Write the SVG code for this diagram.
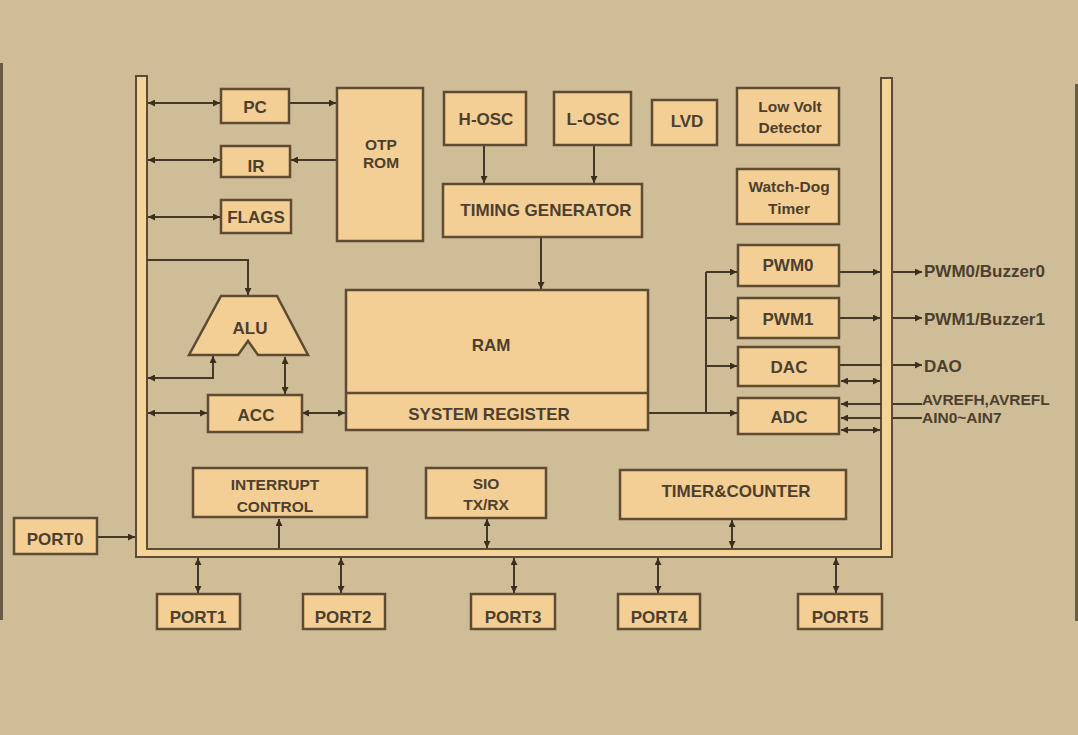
<svg xmlns="http://www.w3.org/2000/svg" width="1078" height="735" viewBox="0 0 1078 735">
<defs>
<style>
.b{fill:#f3cf95;stroke:#5e4b33;stroke-width:2.5}
.t{font-family:"Liberation Sans",Arial,sans-serif;font-weight:bold;font-size:17px;fill:#4d3f2e;text-anchor:middle}
.ts{font-family:"Liberation Sans",Arial,sans-serif;font-weight:bold;font-size:17px;fill:#4d3f2e}
.s2{font-size:15.5px}
.c{fill:none;stroke:#463826;stroke-width:2}
.a{marker-end:url(#ah)}
.d{marker-start:url(#ah);marker-end:url(#ah)}
</style>
<marker id="ah" viewBox="0 0 10 10" refX="10" refY="5" markerWidth="8" markerHeight="7" markerUnits="userSpaceOnUse" orient="auto-start-reverse">
<path d="M0,0 L10,5 L0,10 z" fill="#3a2e1f"/>
</marker>
</defs>
<rect width="1078" height="735" fill="#cfbd97"/>
<rect x="0" y="63" width="3" height="557" fill="#6b5c48"/>
<rect x="1075" y="84" width="3" height="537" fill="#6b5c48"/>

<g id="bus">
<polygon points="136,76 147,76 147,549 881,549 881,78 892,78 892,557 136,557" fill="#f5d49a" stroke="#5e4b33" stroke-width="2"/>
</g>

<g id="connectors">
<line class="c d" x1="148" y1="103" x2="220" y2="103"/>
<line class="c a" x1="290" y1="103" x2="336" y2="103"/>
<line class="c d" x1="148" y1="160" x2="220" y2="160"/>
<line class="c a" x1="336" y1="160" x2="291" y2="160"/>
<line class="c d" x1="148" y1="217" x2="220" y2="217"/>
<polyline class="c a" points="147,260 248,260 248,295"/>
<polyline class="c d" points="213,356 213,378 148,378"/>
<line class="c d" x1="285" y1="357" x2="285" y2="394"/>
<line class="c d" x1="148" y1="413" x2="207" y2="413"/>
<line class="c d" x1="302" y1="413" x2="345" y2="413"/>
<line class="c a" x1="484" y1="146" x2="484" y2="183"/>
<line class="c a" x1="594" y1="146" x2="594" y2="183"/>
<line class="c a" x1="541" y1="238" x2="541" y2="289"/>
<polyline class="c" points="649,413 706,413"/>
<line class="c" x1="706" y1="272" x2="706" y2="413"/>
<line class="c a" x1="706" y1="272" x2="737" y2="272"/>
<line class="c a" x1="706" y1="318" x2="737" y2="318"/>
<line class="c a" x1="706" y1="366" x2="737" y2="366"/>
<line class="c a" x1="706" y1="413" x2="737" y2="413"/>
<line class="c a" x1="840" y1="272" x2="880" y2="272"/>
<line class="c a" x1="840" y1="318" x2="880" y2="318"/>
<line class="c" x1="840" y1="365" x2="881" y2="365"/>
<line class="c d" x1="841" y1="381" x2="880" y2="381"/>
<line class="c a" x1="881" y1="404" x2="841" y2="404"/>
<line class="c a" x1="881" y1="418" x2="841" y2="418"/>
<line class="c d" x1="841" y1="430" x2="880" y2="430"/>
<line class="c a" x1="893" y1="272" x2="922" y2="272"/>
<line class="c a" x1="893" y1="318" x2="922" y2="318"/>
<line class="c a" x1="893" y1="365" x2="922" y2="365"/>
<line class="c" x1="893" y1="404" x2="922" y2="404"/>
<line class="c" x1="893" y1="418" x2="922" y2="418"/>
<line class="c a" x1="97" y1="537" x2="135" y2="537"/>
<line class="c a" x1="279" y1="548" x2="279" y2="519"/>
<line class="c d" x1="487" y1="519" x2="487" y2="548"/>
<line class="c d" x1="732" y1="520" x2="732" y2="548"/>
<line class="c d" x1="198" y1="558" x2="198" y2="593"/>
<line class="c d" x1="341" y1="558" x2="341" y2="593"/>
<line class="c d" x1="514" y1="558" x2="514" y2="593"/>
<line class="c d" x1="658" y1="558" x2="658" y2="593"/>
<line class="c d" x1="836" y1="558" x2="836" y2="593"/>
</g>

<g id="pc"><rect class="b" x="221" y="89" width="68" height="34"/><text class="t" x="255" y="113">PC</text></g>
<g id="ir"><rect class="b" x="221" y="146" width="69" height="31"/><text class="t" x="256" y="172">IR</text></g>
<g id="flags"><rect class="b" x="221" y="200" width="70" height="33"/><text class="t" x="256" y="223">FLAGS</text></g>
<g id="otp-rom"><rect class="b" x="337" y="88" width="86" height="153"/><text class="t s2" x="381" y="150">OTP</text><text class="t s2" x="381" y="168">ROM</text></g>
<g id="h-osc"><rect class="b" x="444" y="92" width="82" height="53"/><text class="t" x="486" y="125">H-OSC</text></g>
<g id="l-osc"><rect class="b" x="554" y="92" width="77" height="53"/><text class="t" x="593" y="125">L-OSC</text></g>
<g id="lvd"><rect class="b" x="652" y="100" width="65" height="45"/><text class="t" x="687" y="127">LVD</text></g>
<g id="low-volt"><rect class="b" x="737" y="88" width="102" height="57"/><text class="t s2" x="790" y="112">Low Volt</text><text class="t s2" x="790" y="133">Detector</text></g>
<g id="watchdog"><rect class="b" x="737" y="169" width="102" height="55"/><text class="t s2" x="789" y="192">Watch-Dog</text><text class="t s2" x="789" y="214">Timer</text></g>
<g id="timing"><rect class="b" x="443" y="184" width="199" height="53"/><text class="t" x="546" y="216">TIMING GENERATOR</text></g>
<g id="ram"><rect class="b" x="346" y="290" width="302" height="140"/><line x1="346" y1="393" x2="648" y2="393" stroke="#5e4b33" stroke-width="2.5"/><text class="t" x="491" y="351">RAM</text><text class="t" x="489" y="420">SYSTEM REGISTER</text></g>
<g id="alu"><polygon class="b" points="221,296 277,296 308,355 258,355 248,341 238,355 189,355"/><text class="t" x="250" y="334">ALU</text></g>
<g id="acc"><rect class="b" x="208" y="395" width="94" height="37"/><text class="t" x="256" y="421">ACC</text></g>
<g id="pwm0"><rect class="b" x="738" y="245" width="101" height="41"/><text class="t" x="788" y="271">PWM0</text></g>
<g id="pwm1"><rect class="b" x="738" y="298" width="101" height="40"/><text class="t" x="788" y="325">PWM1</text></g>
<g id="dac"><rect class="b" x="738" y="347" width="101" height="39"/><text class="t" x="789" y="373">DAC</text></g>
<g id="adc"><rect class="b" x="738" y="398" width="101" height="36"/><text class="t" x="789" y="423">ADC</text></g>
<g id="interrupt"><rect class="b" x="193" y="468" width="174" height="49"/><text class="t s2" x="275" y="490">INTERRUPT</text><text class="t s2" x="275" y="512">CONTROL</text></g>
<g id="sio"><rect class="b" x="426" y="468" width="120" height="50"/><text class="t s2" x="486" y="489">SIO</text><text class="t s2" x="486" y="510">TX/RX</text></g>
<g id="timer"><rect class="b" x="620" y="470" width="226" height="49"/><text class="t" x="736" y="497">TIMER&amp;COUNTER</text></g>
<g id="port0"><rect class="b" x="14" y="518" width="83" height="36"/><text class="t" x="55" y="545">PORT0</text></g>
<g id="port1"><rect class="b" x="157" y="594" width="83" height="35"/><text class="t" x="198" y="623">PORT1</text></g>
<g id="port2"><rect class="b" x="303" y="594" width="82" height="35"/><text class="t" x="343" y="623">PORT2</text></g>
<g id="port3"><rect class="b" x="471" y="594" width="84" height="35"/><text class="t" x="513" y="623">PORT3</text></g>
<g id="port4"><rect class="b" x="618" y="594" width="82" height="35"/><text class="t" x="659" y="623">PORT4</text></g>
<g id="port5"><rect class="b" x="798" y="594" width="84" height="35"/><text class="t" x="840" y="623">PORT5</text></g>

<g id="labels">
<text class="ts" x="924" y="277">PWM0/Buzzer0</text>
<text class="ts" x="924" y="325">PWM1/Buzzer1</text>
<text class="ts" x="924" y="372">DAO</text>
<text class="ts s2" x="922" y="405">AVREFH,AVREFL</text>
<text class="ts s2" x="922" y="423">AIN0~AIN7</text>
</g>
</svg>
